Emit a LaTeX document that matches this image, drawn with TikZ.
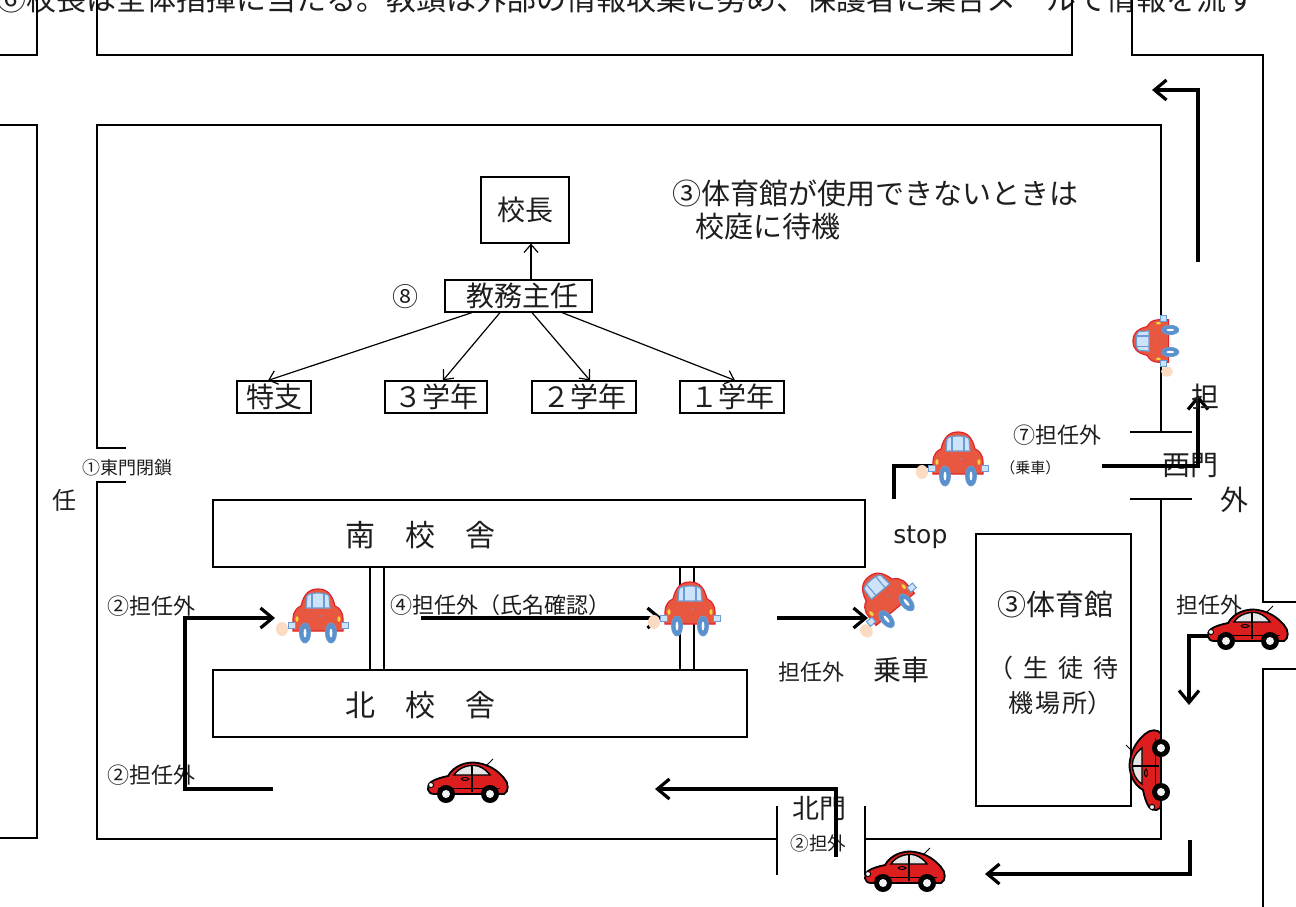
\documentclass[tikz,border=0pt]{standalone}
\usepackage{fontspec}
\setmainfont{Noto Sans CJK JP}
\newfontfamily\stopfont{DejaVu Sans}
\usetikzlibrary{arrows.meta}
\newcommand\jfs[1]{\fontsize{#1pt}{#1pt}\selectfont}

\definecolor{toybody}{HTML}{E8573F}
\definecolor{toyline}{HTML}{E0252A}
\definecolor{toywin}{HTML}{CDE3FA}
\definecolor{toywinline}{HTML}{6B9BD2}
\definecolor{toywheel}{HTML}{5A90CC}
\definecolor{toylight}{HTML}{F5D33C}
\definecolor{puffc}{HTML}{FBDCC2}
\definecolor{beetlered}{HTML}{DC1E1E}
\definecolor{beetlewin}{HTML}{E6E6E6}
\definecolor{ink}{HTML}{1E1E1E}

\tikzset{
  % cartoon car seen from behind, with an exhaust puff on its left
  toycar/.pic={
    \fill[puffc] (-36,-14) ellipse (6 and 7);
    \path[fill=toybody,draw=toyline,line width=0.6pt]
      (-25,-16) -- (-25,-4) .. controls (-25,4) and (-20,8) .. (-17,9)
      .. controls (-14,22) and (-8,26) .. (0,26)
      .. controls (8,26) and (14,22) .. (17,9)
      .. controls (20,8) and (25,4) .. (25,-4) -- (25,-16) -- cycle;
    \path[fill=toywin,draw=toywinline,line width=0.6pt]
      (-12,7) -- (-11,19) .. controls (-10,23) and (10,23) .. (11,19) -- (12,7) -- cycle;
    \draw[toywinline,line width=0.6pt] (-6,7) -- (-6,21.5) (6,7) -- (6,21.5);
    \fill[toylight] (-21,-4) ellipse (1.6 and 2.8);
    \fill[toylight] (21,-4) ellipse (1.6 and 2.8);
    \fill[toywinline] (3,-1) circle (0.9);
    \path[fill=toywin,draw=toywinline,line width=0.5pt] (-30,-13) rectangle (-23,-7);
    \path[fill=toywin,draw=toywinline,line width=0.5pt] (23,-13) rectangle (30,-7);
    \path[fill=toywheel,draw=toywinline,line width=0.4pt] (-13,-18) ellipse (5.5 and 10);
    \path[fill=toywheel,draw=toywinline,line width=0.4pt] (13,-18) ellipse (5.5 and 10);
    \fill[white] (-13,-18) ellipse (1.4 and 4.5);
    \fill[white] (13,-18) ellipse (1.4 and 4.5);
  },
  % red beetle seen from the side, nose to the left
  beetle/.pic={
    \path[fill=beetlered,draw=black,line width=0.9pt]
      (-34,-10) .. controls (-41,-10) and (-42,-2) .. (-37,2)
      .. controls (-33,5) and (-25,7) .. (-20,8)
      .. controls (-14,19) and (0,23) .. (10,21)
      .. controls (22,19) and (30,13) .. (36,6)
      .. controls (41,1) and (41,-8) .. (36,-10) -- cycle;
    \path[fill=beetlewin,draw=black,line width=0.7pt]
      (-14,9) .. controls (-9,17) and (2,20) .. (10,18)
      .. controls (16,16) and (20,12) .. (22,9) -- cycle;
    \draw[line width=0.6pt] (4,19.5) -- (4,-8);
    \draw[line width=0.5pt] (-30,-4) -- (32,-4);
    \draw[line width=0.5pt] (-7,5) .. controls (-5,7) and (-1,7) .. (1,5) .. controls (-1,3) and (-5,3) .. (-7,5);
    \draw[line width=0.5pt] (18,18) -- (25,25);
    \path[fill=white,draw=black,line width=0.5pt] (-37,-1) circle (2.6);
    \path[fill=black] (-22,-10) circle (9);
    \path[fill=black] (22,-10) circle (9);
    \path[fill=white!90!gray] (-22,-10) circle (4);
    \path[fill=white!90!gray] (22,-10) circle (4);
  }
}

\begin{document}
\begin{tikzpicture}[x=0.5pt,y=0.5pt,
  wall/.style={line width=1pt,line cap=rect},
  route/.style={line width=2pt,-{Straight Barb[length=6pt,width=10pt,line width=1.6pt]}},
  orgbox/.style={draw,line width=0.6pt,inner sep=0pt,font=\jfs{14},text=ink},
  house/.style={draw,line width=0.7pt,inner sep=0pt},
  orgarrow/.style={line width=0.6pt,-{Straight Barb[length=4pt,width=7pt,line width=0.6pt]}},
  lbl/.style={inner sep=0pt,text=ink},
]
\useasboundingbox (0,0) rectangle (1296,-906);
\fill[white] (0,0) rectangle (1296,-906);
\clip (0,0) rectangle (1296,-906);

% note running along the top edge, only its lower half on the page
\node[lbl,anchor=base west,font=\jfs{15}] (topnote) at (-4,-10)
  {⑥校長は全体指揮に当たる。教頭は外部の情報収集に努め、保護者に集合メールで情報を流す};

% roads and outer walls
\draw[wall] (0,-55) -- (37,-55) -- (37,0);
\draw[wall] (97,0) -- (97,-55) -- (1072,-55) -- (1072,0);
\draw[wall] (1132,0) -- (1132,-55) -- (1263,-55) -- (1263,-602) -- (1296,-602);
\draw[wall] (1296,-669) -- (1263,-669) -- (1263,-906);
\draw[wall] (0,-125) -- (37,-125) -- (37,-838) -- (0,-838);

% school boundary with its gates
\draw[wall] (125,-448) -- (97,-448) -- (97,-125) -- (1161,-125) -- (1161,-432);
\draw[wall] (1131,-432) -- (1191,-432);
\draw[wall] (1131,-499) -- (1191,-499);
\draw[wall] (1161,-499) -- (1161,-839) -- (865,-839);
\draw[wall] (865,-807) -- (865,-874);
\draw[wall] (777,-807) -- (777,-874);
\draw[wall] (777,-839) -- (97,-839) -- (97,-482) -- (125,-482);

% buildings
\node[house,minimum width=326pt,minimum height=33.5pt] (south) at (539,-533.5) {};
\node[house,minimum width=267pt,minimum height=33.5pt] (north) at (480,-703.5) {};
\node[house,minimum width=77.5pt,minimum height=136pt] (gym) at (1053.5,-670) {};
\draw[line width=0.7pt] (370,-567) -- (370,-670) (384,-567) -- (384,-670);
\draw[line width=0.7pt] (680,-567) -- (680,-670) (694,-567) -- (694,-670);

\node[lbl,anchor=west,font=\jfs{15}] (southname) at (345,-535) {南　校　舎};
\node[lbl,anchor=west,font=\jfs{15}] (northname) at (345,-705) {北　校　舎};
\node[lbl,font=\jfs{14.5}] (gymname) at (1055,-604) {③体育館};
\node[lbl,font=\jfs{12.5}] (gymnote1) at (1053,-668) {（\hspace{5pt}生\hspace{5pt}徒\hspace{5pt}待};
\node[lbl,font=\jfs{12.5}] (gymnote2) at (1060,-703) {機\hspace{1pt}場\hspace{1pt}所）};

% organisation chart
\node[orgbox,minimum width=44pt,minimum height=33pt] (kocho) at (525,-210) {校長};
\node[orgbox,minimum width=73.5pt,minimum height=16pt] (kyomu) at (518.5,-296) {\hspace{4pt}教務主任};
\node[lbl,font=\jfs{13}] (eight) at (405,-297) {⑧};
\node[orgbox,minimum width=37pt,minimum height=16pt] (tokushi) at (274,-397) {特支};
\node[orgbox,minimum width=51pt,minimum height=16pt] (g3) at (436,-397) {３学年};
\node[orgbox,minimum width=52pt,minimum height=16pt] (g2) at (584,-397) {２学年};
\node[orgbox,minimum width=52pt,minimum height=16pt] (g1) at (732,-397) {１学年};

\draw[orgarrow] ([xshift=6.25pt]kyomu.north) -- ([xshift=3pt]kocho.south);
\draw[orgarrow] ([xshift=-23.25pt]kyomu.south) -- ([xshift=-3pt]tokushi.north);
\draw[orgarrow] ([xshift=-9.25pt]kyomu.south) -- ([xshift=3.5pt]g3.north);
\draw[orgarrow] ([xshift=6.75pt]kyomu.south) -- ([xshift=3pt]g2.north);
\draw[orgarrow] ([xshift=21.75pt]kyomu.south) -- ([xshift=1.5pt]g1.north);

\node[lbl,anchor=west,font=\jfs{14.5}] (rain1) at (672,-193) {③体育館が使用できないときは};
\node[lbl,anchor=west,font=\jfs{14.5}] (rain2) at (695,-227) {校庭に待機};

% labels along the routes
\node[lbl,anchor=west,font=\jfs{9}] (eastgate) at (82,-468) {①東門閉鎖};
\node[lbl,font=\jfs{12}] (nin) at (65,-500) {任};
\node[lbl,anchor=west,font=\jfs{11}] (staff2a) at (107,-606) {②担任外};
\node[lbl,anchor=west,font=\jfs{11}] (staff2b) at (107,-775) {②担任外};
\node[lbl,anchor=west,font=\jfs{11}] (staff4) at (390,-605) {④担任外（氏名確認）};
\node[lbl,anchor=west,font=\jfs{11}] (staffride) at (778,-672) {担任外};
\node[lbl,anchor=west,font=\jfs{14}] (ride) at (873,-670) {乗車};
\node[lbl,anchor=west,font=\stopfont\fontsize{12.5pt}{12.5pt}\selectfont] (stop) at (893,-537) {stop};
\node[lbl,anchor=west,font=\jfs{11}] (staff7) at (1013,-435) {⑦担任外};
\node[lbl,anchor=west,font=\jfs{7.5}] (ride7) at (1000,-468) {（乗車）};
\node[lbl,anchor=west,font=\jfs{14}] (westgate) at (1162,-466) {西門};
\node[lbl,font=\jfs{14}] (soto) at (1234,-500) {外};
\node[lbl,anchor=west,font=\jfs{11}] (staffw) at (1176,-605) {担任外};
\node[lbl,anchor=west,font=\jfs{13.5}] (northgate) at (792,-808) {北門};
\node[lbl,anchor=west,font=\jfs{9.3}] (staff2c) at (790,-843) {②担外};

% traffic routes
\draw[route] (1198,-262) -- (1198,-90) -- (1152,-90);
\draw[route] (1102,-466) -- (1198,-466) -- (1198,-395);
\node[lbl,font=\jfs{14}] (tan) at (1205,-397) {担};
\draw[route] (894,-499) -- (894,-466) -- (957,-466);
\draw[route] (1210,-636) -- (1189,-636) -- (1189,-705);
\draw[route] (1190,-840) -- (1190,-874) -- (985,-874);
\draw[route] (836,-857) -- (836,-789) -- (655,-789);
\draw[route] (273,-789) -- (185,-789) -- (185,-618) -- (275,-618);
\draw[route] (421,-618) -- (662,-618);
\draw[route] (777,-618) -- (868,-618);

% cars
\pic at (318,-615) {toycar};
\pic at (690,-608) {toycar};
\pic[rotate=40] at (885,-597) {toycar};
\pic at (958,-458) {toycar};
\pic[rotate=90,scale=0.85] at (1155,-341) {toycar};
\pic at (468,-784) {beetle};
\pic at (905,-873) {beetle};
\pic at (1248,-631) {beetle};
\pic[rotate=90] at (1151,-770) {beetle};
\end{tikzpicture}
\end{document}
